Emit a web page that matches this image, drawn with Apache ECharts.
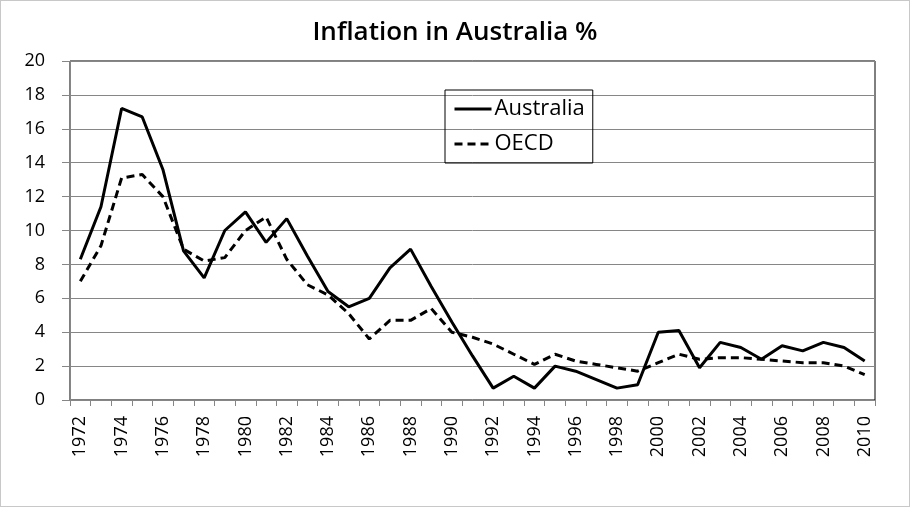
<!DOCTYPE html>
<html>
<head>
<meta charset="utf-8">
<script src="https://cdn.jsdelivr.net/npm/echarts@6/dist/echarts.min.js"></script>
<style>
  html, body { margin: 0; padding: 0; background: #fff; }
  #main { width: 910px; height: 507px; box-sizing: border-box; border: 1px solid #c8c8c8; margin: 0; }
</style>
</head>
<body>
<div id="main"></div>
<script>
// years on the x axis
var years = ['1972', '1973', '1974', '1975', '1976', '1977', '1978', '1979', '1980', '1981',
  '1982', '1983', '1984', '1985', '1986', '1987', '1988', '1989', '1990', '1991',
  '1992', '1993', '1994', '1995', '1996', '1997', '1998', '1999', '2000', '2001',
  '2002', '2003', '2004', '2005', '2006', '2007', '2008', '2009', '2010'];

// inflation %
var australia = [8.3, 11.4, 17.2, 16.7, 13.6, 8.8, 7.2, 10.0, 11.1, 9.3,
  10.7, 8.5, 6.4, 5.5, 6.0, 7.8, 8.9, 6.7, 4.6, 2.6,
  0.7, 1.4, 0.7, 2.0, 1.7, 1.2, 0.7, 0.9, 4.0, 4.1,
  1.9, 3.4, 3.1, 2.4, 3.2, 2.9, 3.4, 3.1, 2.3];
var oecd = [7.0, 9.1, 13.1, 13.3, 12.0, 8.9, 8.2, 8.4, 10.0, 10.8,
  8.3, 6.8, 6.2, 5.1, 3.6, 4.7, 4.7, 5.4, 4.0, 3.7,
  3.3, 2.7, 2.1, 2.7, 2.3, 2.1, 1.9, 1.7, 2.2, 2.7,
  2.4, 2.5, 2.5, 2.4, 2.3, 2.2, 2.2, 2.0, 1.5];

var font = '"Open Sans", "Noto Sans", sans-serif';

var myChart = echarts.init(document.getElementById('main'));

myChart.setOption({
  animation: false,
  title: {
    text: 'Inflation in Australia %',
    left: 'center',
    top: 14,
    textStyle: { fontFamily: font, fontSize: 26, fontWeight: 600, color: '#000' }
  },
  legend: {
    orient: 'vertical',
    left: 444,
    top: 89,
    data: ['Australia', 'OECD'],
    borderColor: '#000',
    borderWidth: 1,
    padding: [8, 8, 8, 8],
    itemGap: 13,
    itemWidth: 37,
    itemHeight: 14,
    itemStyle: { color: 'rgba(0,0,0,0)', borderWidth: 0 },
    lineStyle: { width: 3, color: '#000' },
    textStyle: { fontFamily: font, fontSize: 22, color: '#000', padding: [0, 0, 0, -2] }
  },
  grid: {
    left: 69,
    right: 34,
    top: 60,
    bottom: 106,
    show: true,
    borderColor: '#000',
    borderWidth: 1
  },
  xAxis: {
    type: 'category',
    data: years,
    boundaryGap: true,
    axisLine: { lineStyle: { color: '#868686', width: 1 } },
    axisTick: { show: true, interval: 0, length: 6, lineStyle: { color: '#868686' } },
    axisLabel: {
      interval: 1,
      rotate: 90,
      margin: 16,
      fontFamily: font,
      fontSize: 18,
      color: '#000'
    },
    splitLine: { show: false }
  },
  yAxis: {
    type: 'value',
    min: 0,
    max: 20,
    interval: 2,
    axisLine: { show: true, lineStyle: { color: '#868686', width: 1 } },
    axisTick: { show: true, length: 8, lineStyle: { color: '#868686' } },
    axisLabel: { fontFamily: font, fontSize: 18, color: '#000', margin: 25 },
    splitLine: { lineStyle: { color: '#868686', width: 1 } }
  },
  series: [
    {
      name: 'Australia',
      type: 'line',
      data: australia,
      symbol: 'none',
      lineStyle: { color: '#000', width: 3, type: 'solid' },
      itemStyle: { color: '#000' }
    },
    {
      name: 'OECD',
      type: 'line',
      data: oecd,
      symbol: 'none',
      lineStyle: { color: '#000', width: 3, type: [8, 5] },
      itemStyle: { color: '#000' }
    }
  ]
});
</script>
</body>
</html>
